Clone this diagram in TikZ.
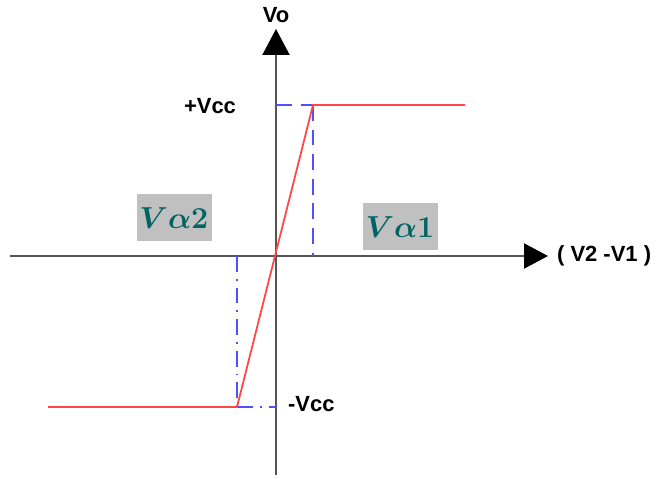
\documentclass[tikz,border=0pt]{standalone}
\usepackage{amsmath}
\usepackage{xcolor}
\usepackage{fontspec}
\setsansfont{Liberation Sans}
\usepackage{tikz}
\usetikzlibrary{arrows.meta}

\definecolor{axisgray}{RGB}{85,85,85}
\definecolor{curvered}{RGB}{255,70,70}
\definecolor{guideblue}{RGB}{80,80,255}
\definecolor{boxgray}{RGB}{192,192,192}
\definecolor{labelteal}{RGB}{0,100,100}

\tikzset{
  axis/.style={draw=axisgray, line width=1.2pt},
  guide/.style={guideblue, line width=0.9pt, dash pattern=on 9pt off 5pt},
  guidedot/.style={guideblue, line width=0.9pt, dash pattern=on 9pt off 4pt on 1pt off 4pt},
  curve/.style={curvered, line width=1pt},
  lvl/.style={font=\sffamily\bfseries\fontsize{12.5}{14}\selectfont, inner sep=1pt},
  regionbox/.style={fill=boxgray, text=labelteal, minimum width=75*0.02cm, minimum height=47*0.02cm,
                    font=\fontsize{19}{21}\selectfont\boldmath, inner sep=0pt}
}

\begin{document}
\begin{tikzpicture}[x=0.02cm, y=-0.02cm]
  \useasboundingbox (0,0) rectangle (656,479);
  % Points
  \coordinate (xl) at (10,256);
  \coordinate (xr) at (548,256);
  \coordinate (yb) at (276,475);
  \coordinate (yt) at (276,29);
  \coordinate (pt) at (313,105);
  \coordinate (pb) at (237,407);
  \coordinate (te) at (465,105);
  \coordinate (be) at (48,407);
  \coordinate (ptax) at (313,256);
  \coordinate (pbax) at (237,256);
  \coordinate (vcctop) at (276,105);
  \coordinate (vccbot) at (276,407);
  % Axes
  \draw[axis, -{Triangle[length=24*0.02cm, width=25*0.02cm, color=black]}] (xl) -- (xr);
  \draw[axis, -{Triangle[length=26*0.02cm, width=27*0.02cm, color=black]}] (yb) -- (yt);
  \node[lvl, anchor=west] (xlab) at (555,256) {( V2 -V1 )};
  \node[lvl] (ylab) at (276,15) {Vo};
  % Guides
  \draw[guide] (vcctop) -- (pt);
  \draw[guide] (pt) -- (ptax);
  \draw[guidedot] (pbax) -- (pb);
  \draw[guidedot] (pb) -- (vccbot);
  % Transfer curve
  \draw[curve] (be) -- (pb) -- (pt) -- (te);
  % Levels
  \node[lvl] (vccp) at (210,106) {+Vcc};
  \node[lvl, anchor=west] (vccm) at (286,404) {-Vcc};
  % Regions
  \node[regionbox] (va2) at (174,218) {$V\alpha 2$};
  \node[regionbox] (va1) at (400,227) {$V\alpha 1$};
\end{tikzpicture}
\end{document}
